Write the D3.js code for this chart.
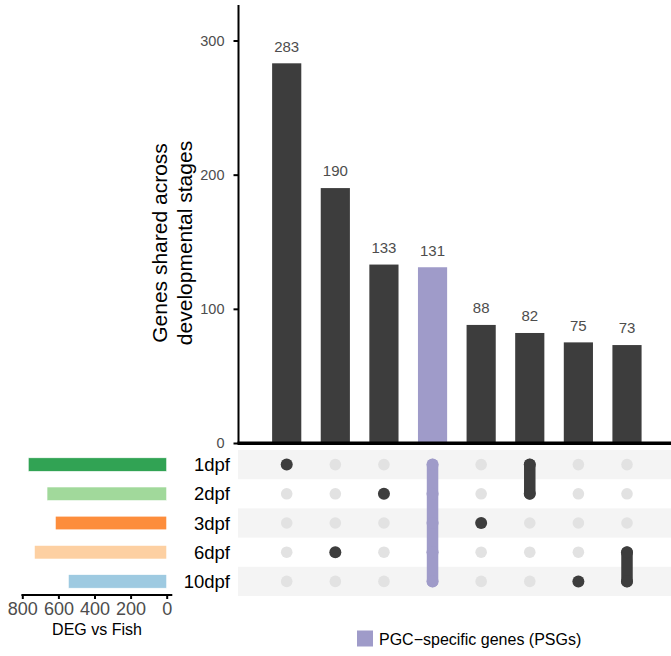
<!DOCTYPE html>
<html>
<head>
<meta charset="utf-8">
<script src="https://cdn.jsdelivr.net/npm/d3@7"></script>
<style>
  html, body { margin: 0; padding: 0; background: #fff; }
  svg { display: block; font-family: "Liberation Sans", Arial, sans-serif; }
</style>
</head>
<body>
<svg id="chart" width="671" height="656"></svg>
<script>
// Developmental stages (sets) and their DEG totals
const stages = ["1dpf", "2dpf", "3dpf", "6dpf", "10dpf"];
const stageTotals = [767, 663, 617, 733, 545];
const stageColors = ["#31a354", "#a1d99b", "#fd8d3c", "#fdd0a2", "#9ecae1"];

// Intersections: sizes and member stages
const interSizes = [283, 190, 133, 131, 88, 82, 75, 73];
const interMembers = [
  ["1dpf"],
  ["6dpf"],
  ["2dpf"],
  ["1dpf", "2dpf", "3dpf", "6dpf", "10dpf"],
  ["3dpf"],
  ["1dpf", "2dpf"],
  ["10dpf"],
  ["6dpf", "10dpf"]
];
const highlighted = [false, false, false, true, false, false, false, false];

const sizeTicks = [0, 100, 200, 300];
const totalTicks = [800, 600, 400, 200, 0];
const legendLabel = "PGC\u2212specific genes (PSGs)";

const DARK = "#3d3d3d";
const PURPLE = "#9f9bc9";
const TICK_GREY = "#4d4d4d";

const svg = d3.select("#chart");
const cols = interSizes.map((_, i) => i);

// Scales
const x = d3.scaleBand().domain(cols).range([262.4, 651.3]).paddingInner(0.4).paddingOuter(0.2);
const y = d3.scaleLinear().domain([0, 300]).range([443, 40.5]);
const row = d3.scaleBand().domain(stages).range([450, 596]);
const xl = d3.scaleLinear().domain([0, 800]).range([166.7, 22.3]);

// ---- Intersection size bars ----
const gBars = svg.append("g");
gBars.selectAll("rect").data(interSizes).join("rect")
  .attr("x", (d, i) => x(i))
  .attr("width", x.bandwidth())
  .attr("y", d => y(d))
  .attr("height", d => y(0) - y(d))
  .attr("fill", (d, i) => highlighted[i] ? PURPLE : DARK);

gBars.selectAll("text").data(interSizes).join("text")
  .attr("x", (d, i) => x(i) + x.bandwidth() / 2)
  .attr("y", d => y(d) - 11.7)
  .attr("text-anchor", "middle")
  .attr("font-size", 15)
  .attr("fill", TICK_GREY)
  .text(d => d);

// Y axis
const gY = svg.append("g").attr("transform", "translate(238.5,0)")
  .call(d3.axisLeft(y).tickValues(sizeTicks).tickSize(5).tickPadding(9));
gY.select(".domain").remove();
gY.selectAll(".tick line").attr("stroke", "#000").attr("stroke-width", 2);
gY.selectAll(".tick text").attr("font-size", 14.5).attr("fill", TICK_GREY)
  .attr("font-family", "Liberation Sans, Arial, sans-serif");
svg.append("line").attr("x1", 238.5).attr("x2", 238.5).attr("y1", 5).attr("y2", 443)
  .attr("stroke", "#000").attr("stroke-width", 2);

// Y title
const title = svg.append("text")
  .attr("transform", "translate(170,243) rotate(-90)")
  .attr("text-anchor", "middle")
  .attr("font-size", 21)
  .attr("fill", "#000");
title.append("tspan").attr("x", 0).attr("dy", "-0.12em").text("Genes shared across");
title.append("tspan").attr("x", 0).attr("dy", "1.15em").text("developmental stages");

// ---- Matrix ----
const gM = svg.append("g");
gM.selectAll("rect.stripe").data(stages.filter((s, i) => i % 2 === 0)).join("rect")
  .attr("class", "stripe")
  .attr("x", 238)
  .attr("width", 671 - 238)
  .attr("y", d => row(d))
  .attr("height", row.bandwidth())
  .attr("fill", "#f4f4f4");

// thick baseline under the bars
svg.append("line").attr("x1", 237.5).attr("x2", 671).attr("y1", 443.3).attr("y2", 443.3)
  .attr("stroke", "#000").attr("stroke-width", 3.6);

const cy = s => row(s) + row.bandwidth() / 2;
const cx = i => x(i) + x.bandwidth() / 2;

// background dots
cols.forEach(i => {
  gM.selectAll(null).data(stages).join("circle")
    .attr("cx", cx(i)).attr("cy", d => cy(d)).attr("r", 5.8)
    .attr("fill", "#e2e2e2");
});

// connecting lines and active dots
cols.forEach(i => {
  const members = interMembers[i];
  const color = highlighted[i] ? PURPLE : DARK;
  const ys = members.map(cy);
  if (members.length > 1) {
    gM.append("line")
      .attr("x1", cx(i)).attr("x2", cx(i))
      .attr("y1", d3.min(ys)).attr("y2", d3.max(ys))
      .attr("stroke", color).attr("stroke-width", 11.5)
      .attr("stroke-linecap", "round");
  }
  gM.selectAll(null).data(members).join("circle")
    .attr("cx", cx(i)).attr("cy", d => cy(d)).attr("r", 6)
    .attr("fill", color);
});

// stage labels
svg.append("g").selectAll("text").data(stages).join("text")
  .attr("x", 230)
  .attr("y", d => cy(d) + 6.5)
  .attr("text-anchor", "end")
  .attr("font-size", 18.5)
  .attr("fill", "#000")
  .text(d => d);

// ---- Set size bars ----
const gL = svg.append("g");
gL.selectAll("rect").data(stageTotals).join("rect")
  .attr("x", d => xl(d))
  .attr("width", d => xl(0) - xl(d))
  .attr("y", (d, i) => cy(stages[i]) - 6.8)
  .attr("height", 13.6)
  .attr("fill", (d, i) => stageColors[i])
  .attr("stroke", "#fff")
  .attr("stroke-width", 0.6);

const gX = svg.append("g").attr("transform", "translate(0,595)")
  .call(d3.axisBottom(xl).tickValues(totalTicks).tickSize(4).tickPadding(3));
gX.select(".domain").remove();
gX.selectAll(".tick line").attr("stroke", "#000").attr("stroke-width", 2);
gX.selectAll(".tick text").attr("font-size", 18).attr("fill", TICK_GREY)
  .attr("font-family", "Liberation Sans, Arial, sans-serif");
svg.append("line").attr("x1", xl(805)).attr("x2", xl(-31)).attr("y1", 595).attr("y2", 595)
  .attr("stroke", "#000").attr("stroke-width", 2);

svg.append("text")
  .attr("x", 97).attr("y", 635)
  .attr("text-anchor", "middle")
  .attr("font-size", 16)
  .attr("fill", "#000")
  .text("DEG vs Fish");

// ---- Legend ----
svg.append("rect").attr("x", 357).attr("y", 630.5).attr("width", 16).attr("height", 16)
  .attr("fill", PURPLE);
svg.append("text").attr("x", 379).attr("y", 645)
  .attr("font-size", 16).attr("fill", "#000")
  .text(legendLabel);
</script>
</body>
</html>
